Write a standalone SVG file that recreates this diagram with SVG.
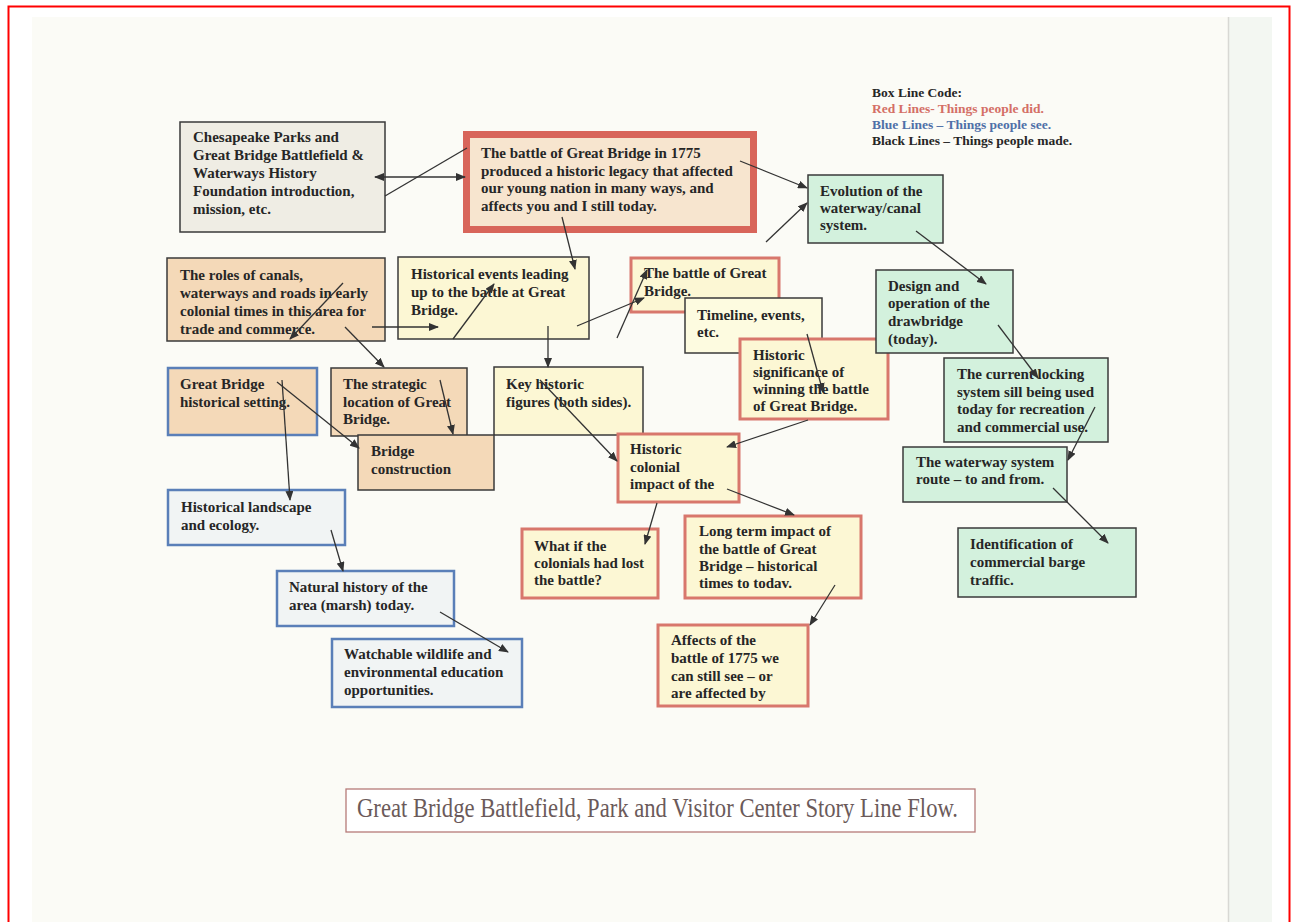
<svg xmlns="http://www.w3.org/2000/svg" width="1292" height="922" viewBox="0 0 1292 922">
<style>
.t{font-family:"Liberation Serif","Times New Roman",serif;font-weight:bold;font-size:15px;fill:#262626}
.lg{font-family:"Liberation Serif","Times New Roman",serif;font-weight:bold;font-size:13.5px}
.dk{stroke:#3a3a3a;stroke-width:1.5}
.rd{stroke:#d8776c;stroke-width:3}
.bl{stroke:#5a7fb8;stroke-width:2.5}
.tan{fill:#f4d9b8}
.yel{fill:#fcf7d4}
.grn{fill:#d3f1dd}
.blf{fill:#f1f4f4}
.c line{stroke:#333;stroke-width:1.3;fill:none}
.c .a{marker-end:url(#ah)}
</style>
<defs>
<marker id="ah" viewBox="0 0 10 8" refX="9" refY="4" markerWidth="10" markerHeight="8" markerUnits="userSpaceOnUse" orient="auto">
<path d="M0,0 L10,4 L0,8 z" fill="#333"/>
</marker>
<marker id="as" viewBox="0 0 10 8" refX="1" refY="4" markerWidth="10" markerHeight="8" markerUnits="userSpaceOnUse" orient="auto">
<path d="M10,0 L0,4 L10,8 z" fill="#333"/>
</marker>
</defs>
<rect x="0" y="0" width="1292" height="922" fill="#ffffff"/>
<rect x="32" y="17" width="1240" height="905" fill="#fbfbf6"/>
<rect x="1229" y="17" width="43" height="905" fill="#f3f7f2"/>
<line x1="1228.5" y1="17" x2="1228.5" y2="922" stroke="#d8d8d4" stroke-width="1.5"/>
<rect x="8.5" y="6.5" width="1281" height="930" fill="none" stroke="#ff0000" stroke-width="2"/>

<g id="legend">
<text class="lg" x="872" y="97" fill="#262626">Box Line Code:</text>
<text class="lg" x="872" y="113" fill="#d46f66">Red Lines- Things people did.</text>
<text class="lg" x="872" y="129" fill="#4f70a8">Blue Lines – Things people see.</text>
<text class="lg" x="872" y="145" fill="#262626">Black Lines – Things people made.</text>
</g>

<g id="n-chesapeake">
<rect x="180" y="122" width="205" height="110" fill="#efede4" class="dk"/>
<text class="t" x="193" y="142">Chesapeake Parks and</text>
<text class="t" x="193" y="160">Great Bridge Battlefield &amp;</text>
<text class="t" x="193" y="178">Waterways History</text>
<text class="t" x="193" y="196">Foundation introduction,</text>
<text class="t" x="193" y="214">mission, etc.</text>
</g>

<g id="n-main">
<rect x="466.5" y="134.5" width="287" height="95" fill="#f7e5cf" stroke="#d8655a" stroke-width="7"/>
<text class="t" x="481" y="158">The battle of Great Bridge in 1775</text>
<text class="t" x="481" y="176">produced a historic legacy that affected</text>
<text class="t" x="481" y="193">our young nation in many ways, and</text>
<text class="t" x="481" y="211">affects you and I still today.</text>
</g>

<g id="n-evolution">
<rect x="808" y="175" width="135" height="68" class="grn dk"/>
<text class="t" x="820" y="196">Evolution of the</text>
<text class="t" x="820" y="213">waterway/canal</text>
<text class="t" x="820" y="230">system.</text>
</g>

<g id="n-roles">
<rect x="167" y="258" width="218" height="83" class="tan dk"/>
<text class="t" x="180" y="280">The roles of canals,</text>
<text class="t" x="180" y="298">waterways and roads in early</text>
<text class="t" x="180" y="316">colonial times in this area for</text>
<text class="t" x="180" y="334">trade and commerce.</text>
</g>

<g id="n-events">
<rect x="398" y="257" width="191" height="82" class="yel dk"/>
<text class="t" x="411" y="279">Historical events leading</text>
<text class="t" x="411" y="297">up to the battle at Great</text>
<text class="t" x="411" y="315">Bridge.</text>
</g>

<g id="n-battle">
<rect x="631" y="258" width="148" height="54" class="yel rd"/>
<text class="t" x="644" y="278">The battle of Great</text>
<text class="t" x="644" y="296">Bridge.</text>
</g>

<g id="n-timeline">
<rect x="685" y="298" width="137" height="55" fill="#fdfbe0" class="dk"/>
<text class="t" x="697" y="320">Timeline, events,</text>
<text class="t" x="697" y="337">etc.</text>
</g>

<g id="n-significance">
<rect x="740" y="339" width="148" height="80" class="yel rd"/>
<text class="t" x="753" y="360">Historic</text>
<text class="t" x="753" y="377">significance of</text>
<text class="t" x="753" y="394">winning the battle</text>
<text class="t" x="753" y="411">of Great Bridge.</text>
</g>

<g id="n-design">
<rect x="876" y="270" width="137" height="83" class="grn dk"/>
<text class="t" x="888" y="291">Design and</text>
<text class="t" x="888" y="308">operation of the</text>
<text class="t" x="888" y="326">drawbridge</text>
<text class="t" x="888" y="344">(today).</text>
</g>

<g id="n-docking">
<rect x="944" y="358" width="164" height="84" class="grn dk"/>
<text class="t" x="957" y="379">The current locking</text>
<text class="t" x="957" y="397">system sill being used</text>
<text class="t" x="957" y="414">today for recreation</text>
<text class="t" x="957" y="432">and commercial use.</text>
</g>

<g id="n-route">
<rect x="903" y="447" width="164" height="55" class="grn dk"/>
<text class="t" x="916" y="467">The waterway system</text>
<text class="t" x="916" y="484">route – to and from.</text>
</g>

<g id="n-barge">
<rect x="958" y="528" width="178" height="69" class="grn dk"/>
<text class="t" x="970" y="549">Identification of</text>
<text class="t" x="970" y="567">commercial barge</text>
<text class="t" x="970" y="585">traffic.</text>
</g>

<g id="n-setting">
<rect x="168" y="368" width="149" height="67" class="tan bl"/>
<text class="t" x="180" y="389">Great Bridge</text>
<text class="t" x="180" y="407">historical setting.</text>
</g>

<g id="n-strategic">
<rect x="331" y="368" width="136" height="68" class="tan dk"/>
<text class="t" x="343" y="389">The strategic</text>
<text class="t" x="343" y="407">location of Great</text>
<text class="t" x="343" y="424">Bridge.</text>
</g>

<g id="n-figures">
<rect x="494" y="367" width="149" height="68" class="yel dk"/>
<text class="t" x="506" y="389">Key historic</text>
<text class="t" x="506" y="407">figures (both sides).</text>
</g>

<g id="n-construction">
<rect x="358" y="435" width="136" height="55" class="tan dk"/>
<text class="t" x="371" y="456">Bridge</text>
<text class="t" x="371" y="474">construction</text>
</g>

<g id="n-colonial">
<rect x="618" y="434" width="121" height="68" class="yel rd"/>
<text class="t" x="630" y="454">Historic</text>
<text class="t" x="630" y="472">colonial</text>
<text class="t" x="630" y="489">impact of the</text>
</g>

<g id="n-whatif">
<rect x="522" y="529" width="136" height="69" class="yel rd"/>
<text class="t" x="534" y="551">What if the</text>
<text class="t" x="534" y="568">colonials had lost</text>
<text class="t" x="534" y="585">the battle?</text>
</g>

<g id="n-longterm">
<rect x="685" y="516" width="176" height="82" class="yel rd"/>
<text class="t" x="699" y="536">Long term impact of</text>
<text class="t" x="699" y="554">the battle of Great</text>
<text class="t" x="699" y="571">Bridge – historical</text>
<text class="t" x="699" y="588">times to todav.</text>
</g>

<g id="n-affects">
<rect x="658" y="625" width="150" height="81" class="yel rd"/>
<text class="t" x="671" y="645">Affects of the</text>
<text class="t" x="671" y="663">battle of 1775 we</text>
<text class="t" x="671" y="681">can still see – or</text>
<text class="t" x="671" y="698">are affected by</text>
</g>

<g id="n-landscape">
<rect x="168" y="490" width="177" height="55" class="blf bl"/>
<text class="t" x="181" y="512">Historical landscape</text>
<text class="t" x="181" y="530">and ecology.</text>
</g>

<g id="n-natural">
<rect x="277" y="571" width="177" height="55" class="blf bl"/>
<text class="t" x="289" y="592">Natural history of the</text>
<text class="t" x="289" y="610">area (marsh) today.</text>
</g>

<g id="n-wildlife">
<rect x="332" y="639" width="190" height="68" class="blf bl"/>
<text class="t" x="344" y="659">Watchable wildlife and</text>
<text class="t" x="344" y="677">environmental education</text>
<text class="t" x="344" y="695">opportunities.</text>
</g>

<g id="title">
<rect x="346" y="789" width="629" height="43" fill="#ffffff" stroke="#b57a78" stroke-width="1.3"/>
<text x="357" y="817" font-family="Liberation Serif,Times New Roman,serif" font-size="28" fill="#6b5a5a" textLength="601" lengthAdjust="spacingAndGlyphs">Great Bridge Battlefield, Park and Visitor Center Story Line Flow.</text>
</g>

<g id="connectors" class="c">
<line x1="375" y1="177" x2="465" y2="177" marker-start="url(#as)" marker-end="url(#ah)"/>
<line x1="385" y1="196" x2="467" y2="148"/>
<line class="a" x1="740" y1="161" x2="807" y2="188"/>
<line class="a" x1="766" y1="242" x2="807" y2="203"/>
<line class="a" x1="562" y1="217" x2="575" y2="269"/>
<line class="a" x1="916" y1="231" x2="986" y2="284"/>
<line class="a" x1="998" y1="325" x2="1038" y2="378"/>
<line class="a" x1="1095" y1="407" x2="1068" y2="460"/>
<line class="a" x1="1053" y1="488" x2="1108" y2="543"/>
<line class="a" x1="343" y1="283" x2="290" y2="339"/>
<line class="a" x1="372" y1="327" x2="438" y2="327"/>
<line class="a" x1="453" y1="339" x2="494" y2="284"/>
<line class="a" x1="345" y1="327" x2="384" y2="367"/>
<line class="a" x1="577" y1="326" x2="644" y2="298"/>
<line class="a" x1="617" y1="338" x2="647" y2="270"/>
<line class="a" x1="548" y1="326" x2="548" y2="367"/>
<line class="a" x1="277" y1="382" x2="359" y2="448"/>
<line class="a" x1="282" y1="380" x2="290" y2="500"/>
<line class="a" x1="440" y1="380" x2="453" y2="434"/>
<line class="a" x1="540" y1="380" x2="617" y2="461"/>
<line class="a" x1="808" y1="420" x2="727" y2="447"/>
<line class="a" x1="807" y1="334" x2="823" y2="392"/>
<line class="a" x1="657" y1="503" x2="645" y2="544"/>
<line class="a" x1="727" y1="489" x2="794" y2="515"/>
<line class="a" x1="835" y1="585" x2="810" y2="625"/>
<line class="a" x1="331" y1="530" x2="343" y2="571"/>
<line class="a" x1="440" y1="612" x2="508" y2="652"/>
</g>
</svg>
